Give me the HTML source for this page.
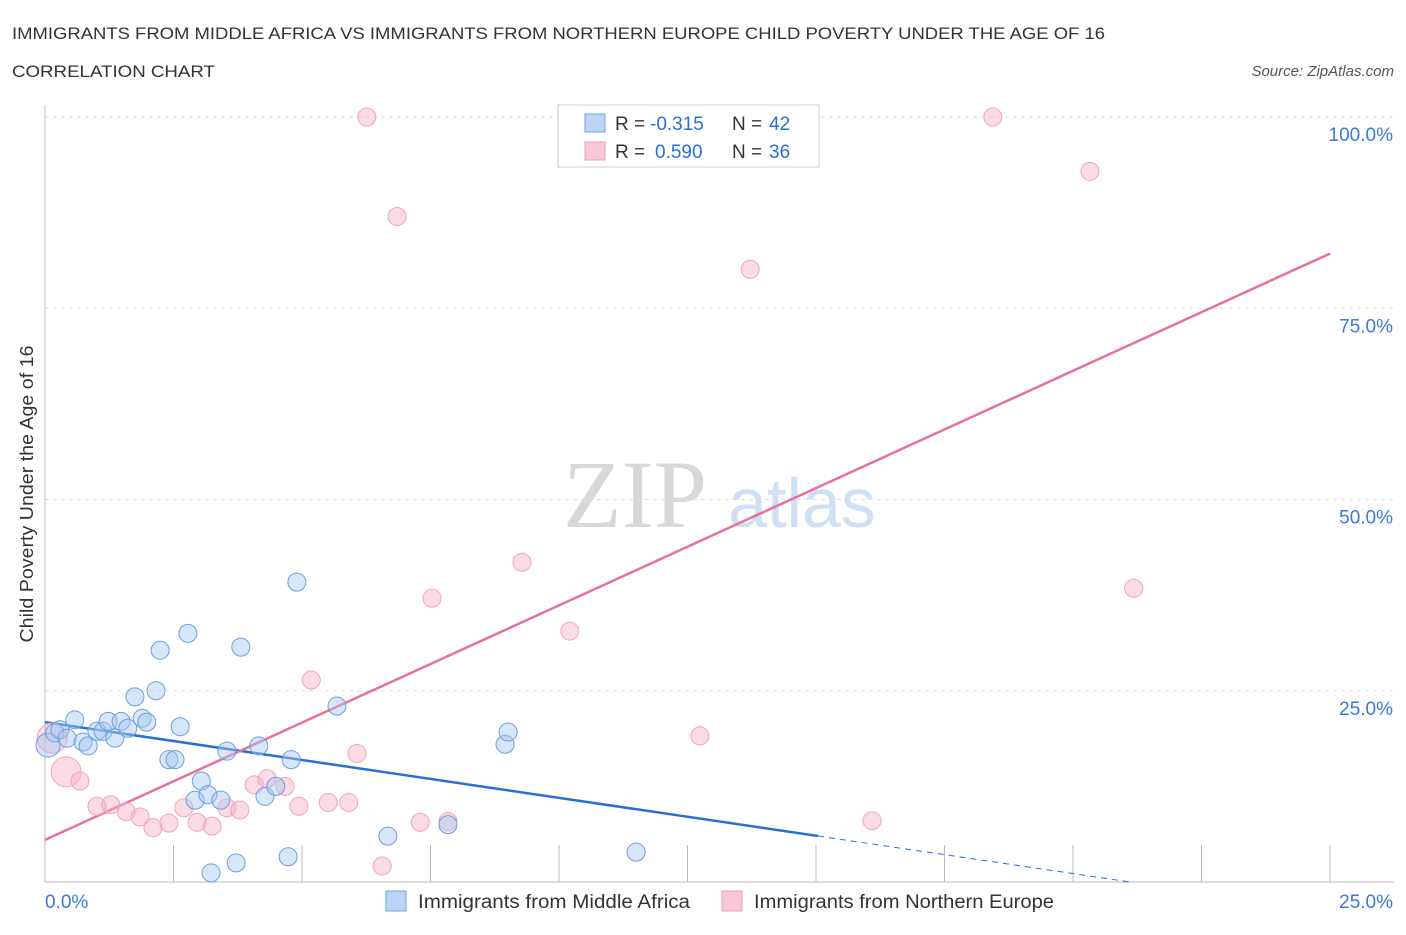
<!DOCTYPE html>
<html><head><meta charset="utf-8"><style>
body{margin:0;background:#fff;font-family:"Liberation Sans",sans-serif;}
</style></head><body>
<svg id="chart" width="1406" height="930" xmlns="http://www.w3.org/2000/svg" font-family="Liberation Sans, sans-serif">
<text x="12" y="39" font-size="17" fill="#333" textLength="1093" lengthAdjust="spacingAndGlyphs">IMMIGRANTS FROM MIDDLE AFRICA VS IMMIGRANTS FROM NORTHERN EUROPE CHILD POVERTY UNDER THE AGE OF 16</text>
<text x="12" y="77" font-size="17" fill="#333" textLength="203" lengthAdjust="spacingAndGlyphs">CORRELATION CHART</text>
<text x="1394" y="76" font-size="15" fill="#555" font-style="italic" text-anchor="end">Source: ZipAtlas.com</text>
<text x="635" y="527" font-size="96" fill="#d8d8d8" text-anchor="middle" style="font-family:'Liberation Serif',serif">ZIP</text>
<text x="802" y="527" font-size="70" fill="#cfe0f5" text-anchor="middle">atlas</text>
<text x="33" y="494" font-size="18" fill="#333" text-anchor="middle" textLength="297" lengthAdjust="spacingAndGlyphs" transform="rotate(-90 33 494)">Child Poverty Under the Age of 16</text>
<g id="grid"></g><g id="axes"></g><g id="trend"></g><g id="pts"></g>
<g>
<rect x="558" y="105" width="261" height="62" fill="#fff" stroke="#ccc"/>
<rect x="585" y="114" width="20" height="18" fill="#bcd5f5" stroke="#6fa0e0"/>
<rect x="585" y="142" width="20" height="18" fill="#f9c8d6" stroke="#f09ab8"/>
<text x="615" y="130" font-size="19" fill="#333">R =</text>
<text x="650" y="130" font-size="19" fill="#2a6fd6">-0.315</text>
<text x="732" y="130" font-size="19" fill="#333">N =</text>
<text x="769" y="130" font-size="19" fill="#2a6fd6">42</text>
<text x="615" y="158" font-size="19" fill="#333">R =</text>
<text x="655" y="158" font-size="19" fill="#2a6fd6">0.590</text>
<text x="732" y="158" font-size="19" fill="#333">N =</text>
<text x="769" y="158" font-size="19" fill="#2a6fd6">36</text>
</g>
<g>
<rect x="386" y="891" width="20" height="20" fill="#bcd5f5" stroke="#6fa0e0"/>
<text x="418" y="908" font-size="19" fill="#333" textLength="272" lengthAdjust="spacingAndGlyphs">Immigrants from Middle Africa</text>
<rect x="722" y="891" width="20" height="20" fill="#f9c8d6" stroke="#f09ab8"/>
<text x="754" y="908" font-size="19" fill="#333" textLength="300" lengthAdjust="spacingAndGlyphs">Immigrants from Northern Europe</text>
</g>
</svg>
<script>
const blueX=[0.06,0.19,0.29,0.43,0.58,0.74,0.84,1.01,1.13,1.23,1.36,1.48,1.61,1.75,1.89,1.98,2.16,2.24,2.41,2.53,2.63,2.78,2.92,3.04,3.17,3.23,3.42,3.54,3.72,3.81,4.16,4.28,4.49,4.73,4.79,4.90,5.68,6.67,7.84,8.95,9.01,11.50];
const blueY=[17.9,19.5,19.9,18.8,21.2,18.3,17.8,19.7,19.7,21.0,18.8,21.0,20.1,24.2,21.4,20.9,25.0,30.3,16.0,16.0,20.3,32.5,10.7,13.2,11.4,1.2,10.7,17.1,2.5,30.7,17.8,11.2,12.5,3.3,16.0,39.2,23.0,6.0,7.5,18.0,19.6,3.9];
const pinkX=[0.14,0.41,0.68,1.01,1.28,1.58,1.85,2.10,2.41,2.70,2.96,3.25,3.54,3.79,4.07,4.32,4.67,4.94,5.18,5.51,5.91,6.07,6.26,6.56,6.85,7.30,7.53,7.84,9.28,10.21,12.74,13.72,16.09,18.44,20.33,21.18];
const pinkY=[18.8,14.4,13.2,9.9,10.1,9.2,8.5,7.1,7.7,9.7,7.8,7.3,9.7,9.4,12.7,13.5,12.5,9.9,26.4,10.4,10.4,16.8,100,2.1,87.0,7.8,37.1,7.9,41.8,32.8,19.1,80.1,8.0,100,92.9,38.4];
const pinkBig=[0,1];
const yTicks=[25,50,75,100];
const yTickLabels=["25.0%","50.0%","75.0%","100.0%"];
const xTickVals=[0,2.5,5,7.5,10,12.5,15,17.5,20,22.5,25];
const blueTrend=[20.9,-0.99,15.04,21.1];
const pinkTrend=[5.5,3.066];
const NS="http://www.w3.org/2000/svg";
const X=v=>45+v/25*1285, Y=v=>882-v/100*765;
function mk(tag,attrs,parent){const e=document.createElementNS(NS,tag);for(const k in attrs)e.setAttribute(k,attrs[k]);document.getElementById(parent).appendChild(e);return e;}
yTicks.forEach((t,i)=>{
 const g=mk('line',{x1:45,x2:1394,y1:Y(t),y2:Y(t),stroke:'#ddd','stroke-dasharray':'4,4'},'grid');
 
 
 const l=mk('text',{x:1393,y:Y(t)+24,'font-size':19,fill:'#3b78d8','text-anchor':'end'},'grid');l.textContent=yTickLabels[i];
 
 
});
const ax=mk('line',{x1:45,x2:45,y1:105,y2:882,stroke:'#bbb'},'axes');


const bx=mk('line',{x1:45,x2:1394,y1:882,y2:882,stroke:'#bbb'},'axes');


xTickVals.forEach(v=>{const t=mk('line',{x1:X(v),x2:X(v),y1:845,y2:882,stroke:'#bbb'},'axes');
 
 });
const x0=mk('text',{x:45,y:908,'font-size':19,fill:'#3b78d8'},'axes');x0.textContent='0.0%';


const x1=mk('text',{x:1393,y:908,'font-size':19,fill:'#3b78d8','text-anchor':'end'},'axes');x1.textContent='25.0%';


const bt=mk('line',{x1:X(0),y1:Y(blueTrend[0]),x2:X(blueTrend[2]),y2:Y(blueTrend[0]+blueTrend[1]*blueTrend[2]),stroke:'#2a6fd6','stroke-width':2.5},'trend');


const bd=mk('line',{x1:X(blueTrend[2]),y1:Y(blueTrend[0]+blueTrend[1]*blueTrend[2]),x2:X(blueTrend[3]),y2:Y(blueTrend[0]+blueTrend[1]*blueTrend[3]),stroke:'#2a6fd6','stroke-width':1,'stroke-dasharray':'6,5'},'trend');


const pt=mk('line',{x1:X(0),y1:Y(pinkTrend[0]),x2:X(25),y2:Y(pinkTrend[0]+pinkTrend[1]*25),stroke:'#e8719a','stroke-width':2.5},'trend');


pinkX.forEach((v,i)=>{const c=mk('circle',{cx:X(v),cy:Y(pinkY[i]),r:pinkBig.includes(i)?15:9,fill:'rgba(246,176,200,0.45)',stroke:'#f2a3bf','stroke-width':1},'pts');
 
 });
blueX.forEach((v,i)=>{const c=mk('circle',{cx:X(v),cy:Y(blueY[i]),r:i==0?12:9,fill:'rgba(166,199,240,0.45)',stroke:'#6b9ee0','stroke-width':1},'pts');
 
 });
</script>
</body></html>
